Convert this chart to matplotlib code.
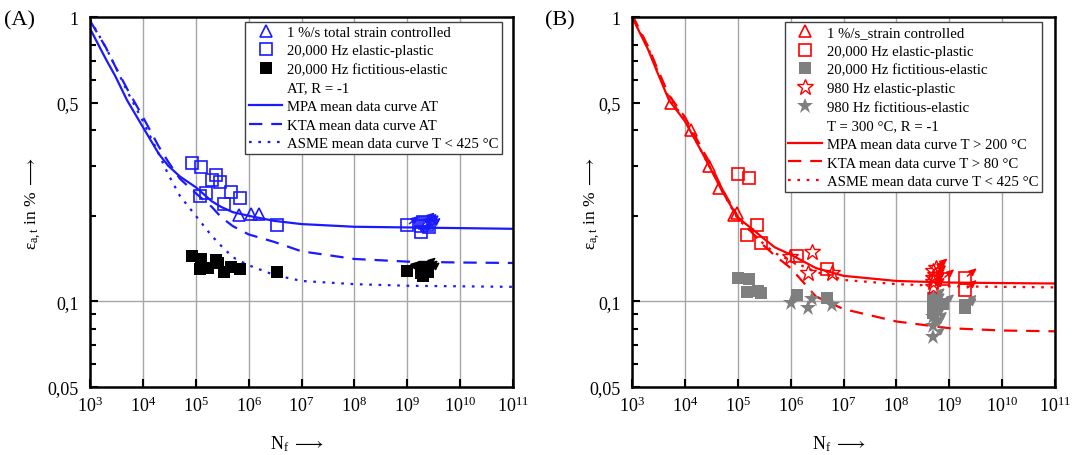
import numpy as np
import matplotlib.pyplot as plt
from matplotlib.lines import Line2D
from matplotlib.ticker import FixedLocator, FixedFormatter, NullLocator, LogFormatterMathtext

plt.rcParams['font.family'] = ['Liberation Serif', 'DejaVu Sans']
plt.rcParams['mathtext.fontset'] = 'custom'
plt.rcParams['mathtext.rm'] = 'Liberation Serif'
plt.rcParams['mathtext.it'] = 'Liberation Serif:italic'
plt.rcParams['mathtext.fallback'] = 'stix'

# ---- panel A data (AT, R = -1) ----
curve_n = [1e3, 2e3, 3e3, 5e3, 1e4, 2e4, 3e4, 5e4, 1e5, 2e5, 3e5, 5e5, 1e6, 3e6, 1e7, 1e8, 1e9, 1e10, 1e11]
mpa_a = [0.91, 0.71, 0.62, 0.51, 0.41, 0.33, 0.30, 0.275, 0.252, 0.225, 0.215, 0.206, 0.200, 0.192, 0.187, 0.183, 0.182, 0.181, 0.180]
kta_a = [0.97, 0.78, 0.67, 0.56, 0.445, 0.35, 0.31, 0.27, 0.240, 0.215, 0.198, 0.184, 0.172, 0.162, 0.150, 0.141, 0.138, 0.137, 0.1365]
asme_a = [0.98, 0.78, 0.67, 0.55, 0.43, 0.33, 0.28, 0.235, 0.200, 0.170, 0.157, 0.143, 0.134, 0.124, 0.118, 0.115, 0.1135, 0.113, 0.1125]

tri_n_a = [6.56e5, 1.12e6, 1.55e6]
tri_v_a = [0.202, 0.203, 0.203]
sq_n_a = [8.6e4, 1.24e5, 2.38e5, 2.02e5, 2.91e5, 4.57e5, 6.76e5, 1.58e5, 1.18e5, 3.39e5, 3.47e6]
sq_v_a = [0.306, 0.296, 0.279, 0.268, 0.264, 0.243, 0.231, 0.240, 0.235, 0.220, 0.186]
sq_ro_n_a = [1.0e9, 1.8e9, 1.8e9, 2.0e9, 2.2e9, 2.4e9, 2.6e9]
sq_ro_v_a = [0.185, 0.184, 0.175, 0.190, 0.188, 0.186, 0.182]
blk_n_a = [8.6e4, 1.23e5, 2.38e5, 1.18e5, 1.7e5, 2.63e5, 3.39e5, 4.68e5, 6.76e5, 3.47e6]
blk_v_a = [0.1445, 0.141, 0.140, 0.130, 0.1315, 0.136, 0.127, 0.132, 0.1297, 0.127]
blk_ro_n_a = [1.0e9, 1.8e9, 1.9e9, 2.1e9, 2.3e9, 2.5e9, 2.0e9]
blk_ro_v_a = [0.128, 0.126, 0.130, 0.132, 0.129, 0.127, 0.123]

# ---- panel B data (T = 300 °C, R = -1) ----
mpa_b = [1.0, 0.77, 0.64, 0.51, 0.43, 0.34, 0.295, 0.245, 0.197, 0.178, 0.167, 0.155, 0.146, 0.131, 0.123, 0.118, 0.1165, 0.116, 0.1156]
kta_b = [1.02, 0.79, 0.66, 0.53, 0.445, 0.35, 0.305, 0.25, 0.198, 0.172, 0.158, 0.145, 0.131, 0.104, 0.094, 0.085, 0.0805, 0.079, 0.0785]
asme_b = [1.0, 0.78, 0.65, 0.52, 0.435, 0.34, 0.295, 0.245, 0.195, 0.172, 0.160, 0.148, 0.139, 0.127, 0.119, 0.115, 0.113, 0.1125, 0.112]

tri_n_b = [5.4e3, 1.29e4, 2.9e4, 4.46e4, 8.6e4, 9.5e4]
tri_v_b = [0.499, 0.40, 0.30, 0.25, 0.202, 0.205]
sq_n_b = [1.0e5, 1.63e5, 2.34e5, 1.48e5, 2.75e5, 1.29e6, 4.8e6]
sq_v_b = [0.280, 0.271, 0.185, 0.1706, 0.161, 0.145, 0.130]
sq_ro_n_b = [7.5e8, 2.0e9, 2.0e9]
sq_ro_v_b = [0.120, 0.121, 0.110]
gsq_n_b = [1.03e5, 1.66e5, 1.52e5, 2.38e5, 2.8e5, 1.29e6, 4.9e6]
gsq_v_b = [0.1207, 0.1197, 0.108, 0.1086, 0.1067, 0.1055, 0.1024]
gsq_ro_n_b = [5e8, 5e8, 5e8, 5e8, 7.5e8, 2.0e9, 2.0e9]
gsq_ro_v_b = [0.103, 0.099, 0.095, 0.091, 0.098, 0.0975, 0.095]
st_n_b = [9.8e5, 2.5e6, 2.15e6, 6.0e6]
st_v_b = [0.143, 0.149, 0.126, 0.126]
st_ro_n_b = [5e8, 5e8, 5e8, 5.3e8, 5e8, 5.6e8]
st_ro_v_b = [0.112, 0.117, 0.121, 0.124, 0.128, 0.131]
gst_n_b = [1.0e6, 2.5e6, 2.15e6, 6.0e6]
gst_v_b = [0.0985, 0.1017, 0.0949, 0.0973]
gst_ro_n_b = [5e8, 5e8, 5e8, 5.5e8]
gst_ro_v_b = [0.088, 0.082, 0.075, 0.085]

y_major = [0.05, 0.1, 0.5, 1]
y_major_labels = ['0,05', '0,1', '0,5', '1']
y_minor = [0.06, 0.07, 0.08, 0.09, 0.2, 0.3, 0.4, 0.6, 0.7, 0.8]

BLUE = '#1a1aff'
RED = '#ff0000'
GRAY = '#7f7f7f'


def runouts(ax, n, v, arrow_color, **kw):
    ax.plot(n, v, ls='none', **kw)
    for ni, vi in zip(n, v):
        ax.annotate('', xy=(ni * 10**0.22, vi * 10**0.034), xytext=(ni * 10**0.04, vi * 10**0.006),
                    arrowprops=dict(arrowstyle='-|>,head_length=0.45,head_width=0.2', color=arrow_color, lw=1.1,
                                    shrinkA=0, shrinkB=0))


def style_axes(ax):
    ax.set_xscale('log')
    ax.set_yscale('log')
    ax.set_xlim(1e3, 1e11)
    ax.set_ylim(0.05, 1)
    ax.xaxis.set_major_locator(FixedLocator([10.0**k for k in range(3, 12)]))
    ax.xaxis.set_major_formatter(LogFormatterMathtext())
    ax.xaxis.set_minor_locator(NullLocator())
    ax.yaxis.set_major_locator(FixedLocator(y_major))
    ax.yaxis.set_major_formatter(FixedFormatter(y_major_labels))
    ax.yaxis.set_minor_locator(FixedLocator(y_minor))
    ax.yaxis.set_minor_formatter(FixedFormatter([''] * len(y_minor)))
    ax.tick_params(which='both', direction='in', top=False, right=False, width=1.5, labelsize=13)
    ax.tick_params(which='major', length=5.5)
    ax.tick_params(which='minor', length=4.5)
    ax.tick_params(axis='y', pad=8)
    ax.tick_params(axis='x', pad=6)
    ax.grid(axis='x', which='major', color='#a6a6a6', lw=1.0)
    ax.axhline(0.1, color='#a6a6a6', lw=1.0, zorder=0.5)
    for s in ax.spines.values():
        s.set_linewidth(1.8)
    ax.set_axisbelow(True)
    ax.set_xlabel(r'$\mathrm{N_f}\ \longrightarrow$', fontsize=13)
    ax.xaxis.set_label_coords(0.49, -0.125)
    ax.set_ylabel(r'$\mathrm{\varepsilon_{a,t}}$ in % $\longrightarrow$', fontsize=12.5)


fig = plt.figure(figsize=(10.72, 4.56), dpi=100)
axA = fig.add_axes([0.0840, 0.1491, 0.3946, 0.8114])
axB = fig.add_axes([0.5896, 0.1491, 0.3946, 0.8114])

dash = (6, 4)
dot = (1.2, 3)
lw = 1.6

# ---- panel A ----
style_axes(axA)
axA.yaxis.set_label_coords(-0.111, 0.5)
axA.plot(curve_n, mpa_a, color=BLUE, lw=lw)
axA.plot(curve_n, kta_a, color=BLUE, lw=lw, dashes=dash)
axA.plot(curve_n, asme_a, color=BLUE, lw=lw, dashes=dot)
mk_tri = dict(marker='^', mfc='none', ms=9, mew=1.2)
mk_sq = dict(marker='s', mfc='none', ms=8, mew=1.2)
mk_fsq = dict(marker='s', ms=8, mew=0)
mk_st = dict(marker='*', mfc='none', ms=12, mew=1.0)
mk_fst = dict(marker='*', ms=12, mew=0)
axA.plot(tri_n_a, tri_v_a, ls='none', mec=BLUE, **mk_tri)
axA.plot(sq_n_a, sq_v_a, ls='none', mec=BLUE, **mk_sq)
runouts(axA, sq_ro_n_a, sq_ro_v_a, BLUE, mec=BLUE, **mk_sq)
axA.plot(blk_n_a, blk_v_a, ls='none', color='black', **mk_fsq)
runouts(axA, blk_ro_n_a, blk_ro_v_a, 'black', color='black', **mk_fsq)

handles_a = [
    Line2D([], [], ls='none', mec=BLUE, **mk_tri),
    Line2D([], [], ls='none', mec=BLUE, **mk_sq),
    Line2D([], [], ls='none', color='black', **mk_fsq),
    Line2D([], [], ls='none'),
    Line2D([], [], color=BLUE, lw=lw),
    Line2D([], [], color=BLUE, lw=lw, dashes=dash),
    Line2D([], [], color=BLUE, lw=lw, dashes=dot),
]
labels_a = ['1 %/s total strain controlled', '20,000 Hz elastic-plastic', '20,000 Hz fictitious-elastic',
            'AT, R = -1', 'MPA mean data curve AT', 'KTA mean data curve AT', 'ASME mean data curve T < 425 °C']
legend_kw = dict(loc='upper right', borderaxespad=0, fontsize=10.6, numpoints=1, handlelength=2.3,
                 handletextpad=0.3, labelspacing=0.36, borderpad=0.25, fancybox=False, framealpha=1,
                 edgecolor='#404040')
leg = axA.legend(handles_a, labels_a, bbox_to_anchor=(0.974, 0.987), **legend_kw)
leg.get_frame().set_linewidth(1.0)

# ---- panel B ----
style_axes(axB)
axB.yaxis.set_label_coords(-0.072, 0.5)
axB.plot(curve_n, mpa_b, color=RED, lw=lw)
axB.plot(curve_n, kta_b, color=RED, lw=lw, dashes=dash)
axB.plot(curve_n, asme_b, color=RED, lw=lw, dashes=dot)
axB.plot(tri_n_b, tri_v_b, ls='none', mec=RED, **mk_tri)
axB.plot(sq_n_b, sq_v_b, ls='none', mec=RED, **mk_sq)
runouts(axB, sq_ro_n_b, sq_ro_v_b, RED, mec=RED, **mk_sq)
axB.plot(gsq_n_b, gsq_v_b, ls='none', color=GRAY, **mk_fsq)
runouts(axB, gsq_ro_n_b, gsq_ro_v_b, GRAY, color=GRAY, **mk_fsq)
axB.plot(st_n_b, st_v_b, ls='none', mec=RED, **mk_st)
runouts(axB, st_ro_n_b, st_ro_v_b, RED, mec=RED, **mk_st)
axB.plot(gst_n_b, gst_v_b, ls='none', color=GRAY, **mk_fst)
runouts(axB, gst_ro_n_b, gst_ro_v_b, GRAY, color=GRAY, **mk_fst)

handles_b = [
    Line2D([], [], ls='none', mec=RED, **mk_tri),
    Line2D([], [], ls='none', mec=RED, **mk_sq),
    Line2D([], [], ls='none', color=GRAY, **mk_fsq),
    Line2D([], [], ls='none', mec=RED, **mk_st),
    Line2D([], [], ls='none', color=GRAY, **mk_fst),
    Line2D([], [], ls='none'),
    Line2D([], [], color=RED, lw=lw),
    Line2D([], [], color=RED, lw=lw, dashes=dash),
    Line2D([], [], color=RED, lw=lw, dashes=dot),
]
labels_b = ['1 %/s_strain controlled', '20,000 Hz elastic-plastic', '20,000 Hz fictitious-elastic',
            '980 Hz elastic-plastic', '980 Hz fictitious-elastic', 'T = 300 °C, R = -1',
            'MPA mean data curve T > 200 °C', 'KTA mean data curve T > 80 °C', 'ASME mean data curve T < 425 °C']
leg = axB.legend(handles_b, labels_b, bbox_to_anchor=(0.9686, 0.9857), **legend_kw)
leg.get_frame().set_linewidth(1.0)

fig.text(0.004, 0.975, '(A)', fontsize=16, va='top')
fig.text(0.508, 0.975, '(B)', fontsize=16, va='top')

fig.savefig('out.png', dpi=100)
